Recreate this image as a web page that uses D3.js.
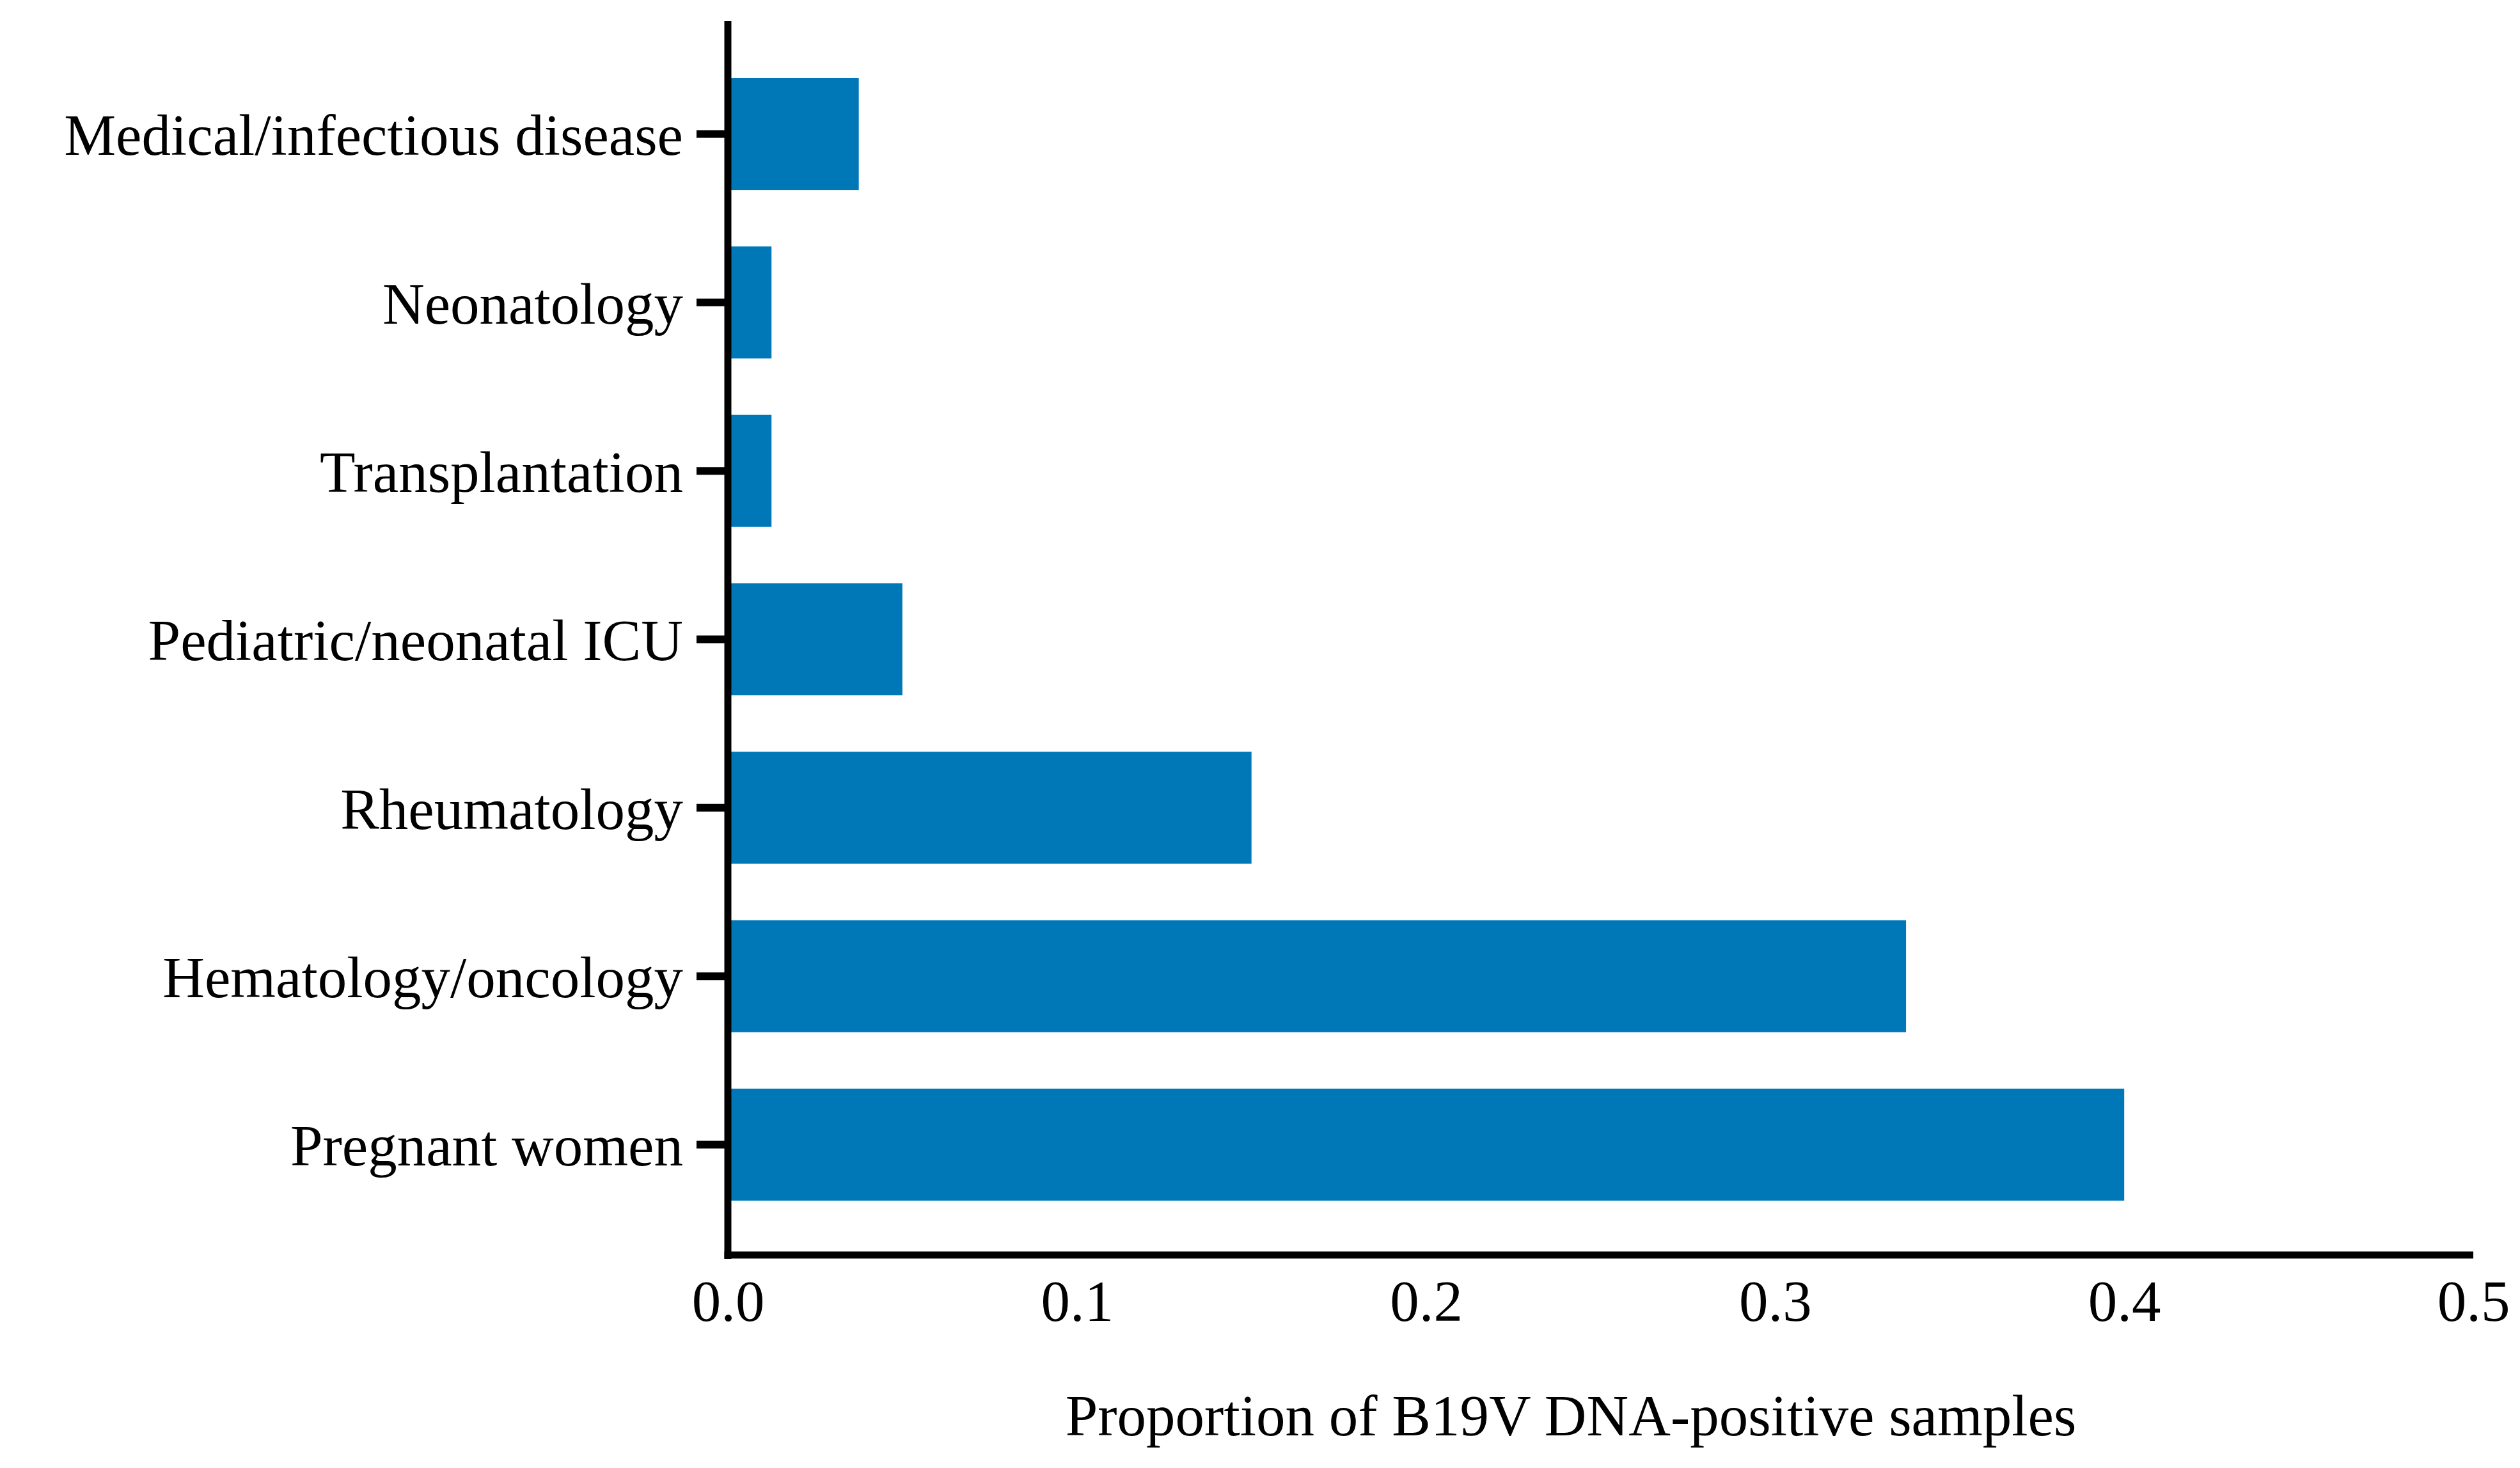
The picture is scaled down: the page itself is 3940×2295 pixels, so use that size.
<!DOCTYPE html>
<html>
<head>
<meta charset="utf-8">
<script src="https://cdn.jsdelivr.net/npm/d3@7"></script>
<style>
  body { margin: 0; background: #fff; }
  svg { display: block; }
</style>
</head>
<body>
<div id="chart"></div>
<script>
// categories top to bottom, values are proportions
var categories = [
    'Medical/infectious disease',
    'Neonatology',
    'Transplantation',
    'Pediatric/neonatal ICU',
    'Rheumatology',
    'Hematology/oncology',
    'Pregnant women'
];
var proportions = [0.0375, 0.0125, 0.0125, 0.05, 0.15, 0.3375, 0.4];
var xTicks = [0, 0.1, 0.2, 0.3, 0.4, 0.5];
var xTitle = 'Proportion of B19V DNA-positive samples';

var W = 3940, H = 2295;
var fontFamily = '"Palatino Linotype", "Book Antiqua", Palatino, "Liberation Serif", "DejaVu Serif", serif';
var fontSize = 91;
var barColor = '#0078b7';

var svg = d3.select('#chart')
    .append('svg')
    .attr('width', W)
    .attr('height', H);

// scales
var x = d3.scaleLinear()
    .domain([0, 0.5])
    .range([1138, 3867]);

var y = d3.scaleBand()
    .domain(categories)
    .range([122, 1877])
    .paddingInner(0.335)
    .paddingOuter(0);

var axisY = 1962;

// bars
svg.selectAll('rect.bar')
    .data(categories)
    .enter()
    .append('rect')
    .attr('class', 'bar')
    .attr('x', x(0))
    .attr('y', function (d) { return y(d); })
    .attr('width', function (d, i) { return x(proportions[i]) - x(0); })
    .attr('height', y.bandwidth())
    .style('fill', barColor);

// y axis (ticks + labels)
svg.append('g')
    .attr('transform', 'translate(' + x(0) + ',0)')
    .call(d3.axisLeft(y).tickSize(49).tickPadding(21))
    .call(g => g.select('.domain').remove())
    .call(g => g.selectAll('.tick line')
        .attr('stroke', '#000')
        .attr('stroke-width', 12))
    .call(g => g.selectAll('.tick text')
        .attr('dy', '0.36em')
        .style('font-family', fontFamily)
        .style('font-size', fontSize + 'px')
        .style('fill', '#000'));

// x axis labels (no tick marks)
svg.append('g')
    .attr('transform', 'translate(0,' + axisY + ')')
    .call(d3.axisBottom(x).tickValues(xTicks).tickSize(0).tickPadding(38).tickFormat(d3.format('.1f')))
    .call(g => g.select('.domain').remove())
    .call(g => g.selectAll('.tick text')
        .style('font-family', fontFamily)
        .style('font-size', fontSize + 'px')
        .style('fill', '#000'));

// axis lines
svg.append('line')
    .attr('x1', x(0))
    .attr('x2', x(0))
    .attr('y1', 33)
    .attr('y2', axisY + 6)
    .attr('stroke', '#000')
    .attr('stroke-width', 11);

svg.append('line')
    .attr('x1', x(0) - 5.5)
    .attr('x2', x(0.5))
    .attr('y1', axisY)
    .attr('y2', axisY)
    .attr('stroke', '#000')
    .attr('stroke-width', 11);

// x axis title
svg.append('text')
    .attr('x', 2456)
    .attr('y', 2244)
    .attr('text-anchor', 'middle')
    .style('font-family', fontFamily)
    .style('font-size', fontSize + 'px')
    .style('fill', '#000')
    .text(xTitle);
</script>
</body>
</html>
